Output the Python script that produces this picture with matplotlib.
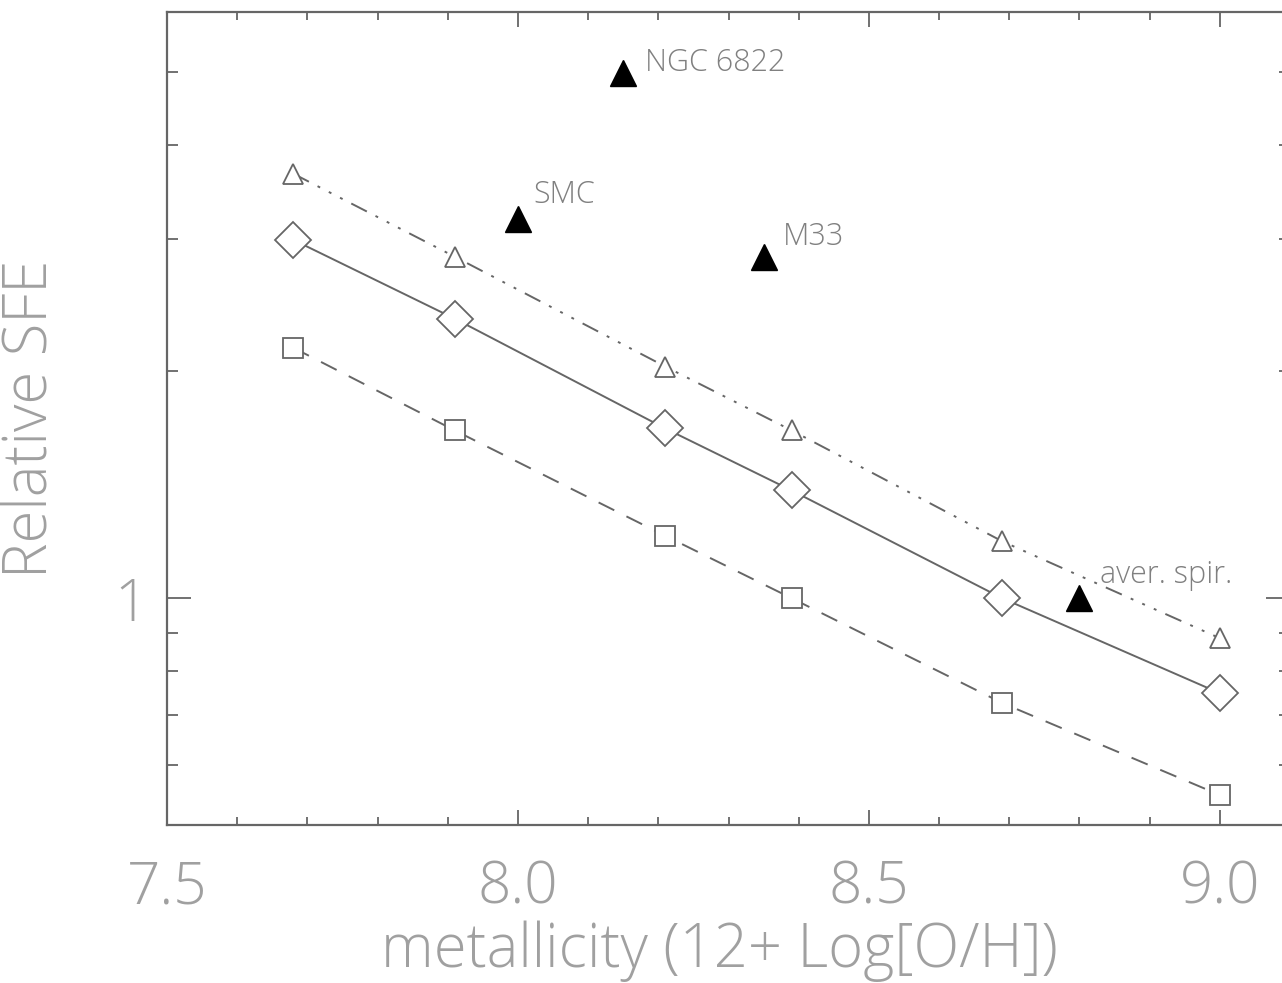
import matplotlib
matplotlib.use("Agg")
import matplotlib.pyplot as plt
from matplotlib.ticker import LogLocator, NullFormatter, FixedLocator, FixedFormatter, MultipleLocator

plt.rcParams['font.family'] = ['Open Sans', 'DejaVu Sans']
plt.rcParams['font.weight'] = 'light'
plt.rcParams['axes.labelweight'] = 'light'

# model curves: metallicity vs relative SFE
metal = [7.68, 7.91, 8.21, 8.39, 8.69, 9.00]
sfe_tri = [3.66, 2.84, 2.03, 1.67, 1.19, 0.885]
sfe_dia = [2.99, 2.35, 1.68, 1.39, 1.00, 0.748]
sfe_sq = [2.15, 1.67, 1.21, 1.00, 0.726, 0.548]

# observed galaxies
gal_names = ['NGC 6822', 'SMC', 'M33', 'aver. spir.']
gal_metal = [8.15, 8.00, 8.35, 8.80]
gal_sfe = [4.98, 3.19, 2.84, 1.00]
gal_offset = [(16, 7), (11, 17), (14, 14), (15, 17)]

xticks = [7.5, 8.0, 8.5, 9.0]
xtick_labels = ['7.5', '8.0', '8.5', '9.0']
yticks = [1]
ytick_labels = ['1']

line_col = '#666666'
text_col = '#a0a0a0'
label_col = '#808080'

fig = plt.figure(figsize=(12.82, 9.83), dpi=100)
ax = fig.add_axes([167 / 1282, 1 - 825 / 983, (1290 - 167) / 1282, (825 - 12) / 983])

ax.plot(metal, sfe_tri, color=line_col, lw=1.4, dashes=[9, 5, 1.5, 5, 1.5, 5, 1.5, 5],
        marker='^', markersize=14, markerfacecolor='white', markeredgecolor=line_col, markeredgewidth=1.3)
ax.plot(metal, sfe_dia, color=line_col, lw=1.4, linestyle='-',
        marker='D', markersize=18, markerfacecolor='white', markeredgecolor=line_col, markeredgewidth=1.3)
ax.plot(metal, sfe_sq, color=line_col, lw=1.4, dashes=[9, 7],
        marker='s', markersize=14, markerfacecolor='white', markeredgecolor=line_col, markeredgewidth=1.3)

ax.plot(gal_metal, gal_sfe, linestyle='none', marker='^', markersize=19, color='black')
for name, x, y, off in zip(gal_names, gal_metal, gal_sfe, gal_offset):
    ax.annotate(name, (x, y), xytext=off, textcoords='offset points',
                fontsize=22, color=label_col, ha='left', va='center')

ax.set_yscale('log')
ax.set_xlim(7.5, 9.1)
ax.set_ylim(0.5, 6.0)

ax.xaxis.set_major_locator(FixedLocator(xticks))
ax.xaxis.set_major_formatter(FixedFormatter(xtick_labels))
ax.xaxis.set_minor_locator(MultipleLocator(0.1))
ax.yaxis.set_major_locator(FixedLocator(yticks))
ax.yaxis.set_major_formatter(FixedFormatter(ytick_labels))
ax.yaxis.set_minor_locator(LogLocator(base=10, subs=range(2, 10)))
ax.yaxis.set_minor_formatter(NullFormatter())

ax.tick_params(which='both', direction='in', top=True, right=True, color=line_col, width=1.3)
ax.tick_params(axis='x', which='major', length=11, pad=24, labelsize=42, labelcolor=text_col)
ax.tick_params(axis='x', which='minor', length=6)
ax.tick_params(axis='y', which='major', length=17, pad=14, labelsize=42, labelcolor=text_col)
ax.tick_params(axis='y', which='minor', length=8)

for sp in ax.spines.values():
    sp.set_color(line_col)
    sp.set_linewidth(1.6)

ax.set_xlabel('metallicity (12+ Log[O/H])', fontsize=43, color=text_col, fontweight='light')
ax.set_ylabel('Relative SFE', fontsize=43, color=text_col, fontweight='light')
ax.xaxis.set_label_coords(0.4915, -0.117)
ax.yaxis.set_label_coords(-0.093, 0.5)

fig.savefig('out.png', dpi=100)
